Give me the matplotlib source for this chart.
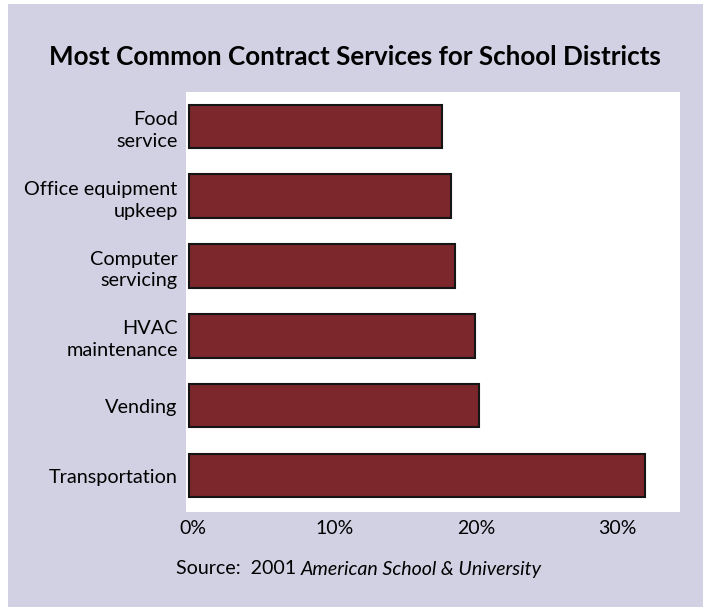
import matplotlib
matplotlib.use("Agg")
import matplotlib.pyplot as plt
from matplotlib.patches import Rectangle
from matplotlib.transforms import ScaledTranslation

# Data (bottom to top as drawn)
categories = [
    "Transportation",
    "Vending",
    "HVAC\nmaintenance",
    "Computer\nservicing",
    "Office equipment\nupkeep",
    "Food\nservice",
]
percent_values = [32.2, 20.5, 20.2, 18.8, 18.5, 17.9]
tick_values = [0, 10, 20, 30]
tick_labels = ["0%", "10%", "20%", "30%"]

BG_COLOR = "#d2d1e4"
BAR_COLOR = "#7b272b"
FONT = "Lato"

fig = plt.figure(figsize=(7.1, 6.14), dpi=100)
fig.patch.set_facecolor("white")

# Lavender card behind everything
fig.patches.append(Rectangle(
    (8 / 710, 1 - 607 / 614), (703 - 8) / 710, (607 - 4) / 614,
    transform=fig.transFigure, facecolor=BG_COLOR, edgecolor="none", zorder=-5
))

ax = fig.add_axes([186 / 710, 1 - 512 / 614, (680 - 186) / 710, (512 - 92) / 614])
ax.set_zorder(2)
ax.set_facecolor("white")

positions = list(range(len(categories)))
ax.barh(
    positions,
    percent_values,
    height=0.62,
    color=BAR_COLOR,
    edgecolor="#151515",
    linewidth=1.5,
    zorder=3
)

ax.set_xlim(-0.21, 34.7)
ax.set_ylim(-0.52, 5.49)

ax.set_yticks(positions)
ax.set_yticklabels(categories, fontsize=14.3, family=FONT, ha="right",
                   linespacing=1.35)
ax.set_xticks(tick_values)
ax.set_xticklabels(tick_labels, fontsize=14, family=FONT)

ax.tick_params(axis="y", length=0, pad=6)
ax.tick_params(axis="x", length=0, pad=6)

# nudge the percent labels a little to the right like the original
shift = ScaledTranslation(4 / 100, 0, fig.dpi_scale_trans)
for label in ax.get_xticklabels():
    label.set_transform(label.get_transform() + shift)

for spine in ax.spines.values():
    spine.set_visible(False)

fig.text(0.5, 1 - 57 / 614, "Most Common Contract Services for School Districts",
         ha="center", va="center", fontsize=18.7, fontweight="bold", family=FONT)

source = fig.text(176 / 710, 1 - 569 / 614, "Source:  2001 ",
                  ha="left", va="center", fontsize=14.1, family=FONT)
ax.annotate("American School & University", xy=(1, 0), xycoords=source,
            va="bottom", ha="left", fontsize=14.1, family=FONT,
            style="italic", annotation_clip=False)

fig.savefig("out.png", dpi=100, facecolor=fig.get_facecolor())
